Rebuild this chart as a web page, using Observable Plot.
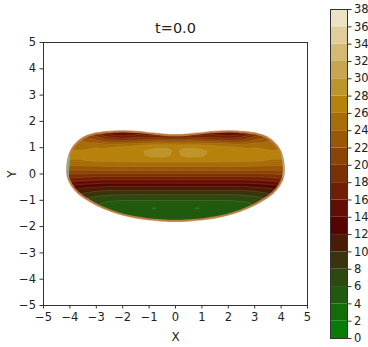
<!DOCTYPE html>
<html>
<head>
<meta charset="utf-8">
<script src="https://cdn.jsdelivr.net/npm/d3@7"></script>
<script src="https://cdn.jsdelivr.net/npm/@observablehq/plot@0.6"></script>
<style>
  body { margin: 0; background: white; }
  #wrap { position: relative; width: 368px; height: 347px; overflow: hidden; background: white; }
  #wrap svg { position: absolute; top: 0; overflow: visible; }
</style>
</head>
<body>
<div id="wrap"></div>
<script>
// ---- data ----
const title = "t=0.0";
const xTicks = [-5, -4, -3, -2, -1, 0, 1, 2, 3, 4, 5];
const yTicks = [-5, -4, -3, -2, -1, 0, 1, 2, 3, 4, 5];
const levels = [0, 2, 4, 6, 8, 10, 12, 14, 16, 18, 20, 22, 24, 26, 28, 30, 32, 34, 36, 38];

// sample grid of the field (columns = gridX, rows = gridY)
const gridX = [-4.2, -3.6, -3.0, -2.5, -2.0, -1.4, -0.8, -0.4, 0, 0.4, 0.8, 1.4, 2.0, 2.5, 3.0, 3.6, 4.2];
const gridY = [1.7, 1.5, 1.3, 1.1, 0.9, 0.7, 0.5, 0.3, 0.1, -0.1, -0.3, -0.5, -0.7, -0.9, -1.1, -1.3, -1.5, -1.7, -1.9];
const fieldValues = [
  [22, 20, 18, 16, 14, 14, 13, 12, 12, 12, 13, 14, 14, 16, 18, 20, 22],
  [24, 22, 19, 16, 15, 16, 15, 14, 13, 14, 15, 16, 15, 16, 19, 22, 24],
  [25, 24, 22, 20, 19, 20, 21, 21, 21, 21, 21, 20, 19, 20, 22, 24, 25],
  [26, 25.5, 25.5, 25, 25.5, 26, 26.3, 26.3, 26.3, 26.3, 26.3, 26, 25.5, 25, 25.5, 25.5, 26],
  [26, 26, 26.5, 27, 27.2, 27.5, 28.9, 28.9, 27.6, 28.9, 28.9, 27.5, 27.2, 27, 26.5, 26, 26],
  [26.5, 26.5, 27, 27, 27.2, 27.5, 28.6, 28.6, 27.5, 28.6, 28.6, 27.5, 27.2, 27, 27, 26.5, 26.5],
  [25.8, 25.8, 26.2, 26.3, 26.4, 26.5, 26.5, 26.5, 26.5, 26.5, 26.5, 26.5, 26.4, 26.3, 26.2, 25.8, 25.8],
  [23.8, 23.8, 24, 24.2, 24.2, 24.2, 24.2, 24.2, 24.2, 24.2, 24.2, 24.2, 24.2, 24.2, 24, 23.8, 23.8],
  [21.5, 21.5, 21.5, 21.5, 21.5, 21.5, 21.5, 21.5, 21.5, 21.5, 21.5, 21.5, 21.5, 21.5, 21.5, 21.5, 21.5],
  [19, 18.5, 18, 18, 18, 18, 18, 18, 18, 18, 18, 18, 18, 18, 18, 18.5, 19],
  [16.5, 15.5, 15, 14.8, 14.8, 14.8, 14.8, 14.8, 14.8, 14.8, 14.8, 14.8, 14.8, 14.8, 15, 15.5, 16.5],
  [14, 12.5, 12, 11.5, 11.5, 11.5, 11.5, 11.5, 11.5, 11.5, 11.5, 11.5, 11.5, 11.5, 12, 12.5, 14],
  [12, 10.5, 9.5, 9, 9, 9, 9, 9, 9, 9, 9, 9, 9, 9, 9.5, 10.5, 12],
  [10, 8.5, 7.5, 7, 6.8, 6.8, 6.8, 6.8, 6.8, 6.8, 6.8, 6.8, 6.8, 7, 7.5, 8.5, 10],
  [8, 7, 6.2, 5.6, 5.3, 5.3, 5.3, 5.3, 5.3, 5.3, 5.3, 5.3, 5.3, 5.6, 6.2, 7, 8],
  [7, 6.5, 6, 5.2, 4.9, 4.8, 3.8, 4.8, 4.8, 4.8, 3.8, 4.8, 4.9, 5.2, 6, 6.5, 7],
  [7, 6.5, 6, 5.2, 4.9, 4.8, 4.8, 4.8, 4.8, 4.8, 4.8, 4.8, 4.9, 5.2, 6, 6.5, 7],
  [7, 6.5, 6, 5.4, 5.2, 5.2, 5.2, 5.2, 5.2, 5.2, 5.2, 5.2, 5.2, 5.4, 6, 6.5, 7],
  [7, 6.5, 6, 5.6, 5.5, 5.5, 5.5, 5.5, 5.5, 5.5, 5.5, 5.5, 5.5, 5.6, 6, 6.5, 7]
];

// outline of the domain (clockwise from the left tip, over the top)
const boundaryX = [-4.1, -4.08, -4.02, -3.9, -3.72, -3.45, -3.1, -2.6, -2.0, -1.5, -1.0, -0.5, 0, 0.5, 1.0, 1.5, 2.0, 2.6, 3.1, 3.45, 3.72, 3.9, 4.02, 4.08, 4.1,
                   4.07, 3.93, 3.68, 3.28, 2.92, 2.45, 1.97, 1.5, 1.03, 0.55, 0, -0.55, -1.03, -1.5, -1.97, -2.45, -2.92, -3.28, -3.68, -3.93, -4.07];
const boundaryY = [0.15, 0.45, 0.72, 0.98, 1.2, 1.4, 1.52, 1.59, 1.62, 1.6, 1.55, 1.5, 1.48, 1.5, 1.55, 1.6, 1.62, 1.59, 1.52, 1.4, 1.2, 0.98, 0.72, 0.45, 0.15,
                   -0.12, -0.42, -0.72, -1.0, -1.2, -1.4, -1.55, -1.65, -1.72, -1.76, -1.78, -1.76, -1.72, -1.65, -1.55, -1.4, -1.2, -1.0, -0.72, -0.42, -0.12];

// ---- styles ----
const bandColors = [
  "rgb(5,125,5)", "rgb(18,108,10)", "rgb(32,90,14)", "rgb(45,72,16)", "rgb(58,52,12)",
  "rgb(72,28,6)", "rgb(86,4,2)", "rgb(100,14,3)", "rgb(114,30,4)", "rgb(126,48,5)",
  "rgb(140,68,6)", "rgb(154,88,7)", "rgb(168,108,8)", "rgb(182,130,12)", "rgb(190,148,45)",
  "rgb(200,165,80)", "rgb(212,185,115)", "rgb(224,205,155)", "rgb(236,226,196)"
];
const font = "DejaVu Sans, sans-serif";
const minusFmt = d => d < 0 ? "\u2212" + (-d) : String(d);

const grid = gridY.flatMap((y, i) => gridX.map((x, j) => ({x, y, value: fieldValues[i][j]})));
const boundary = boundaryX.map((x, i) => ({x, y: boundaryY[i]}));
const bandLevels = levels.slice(0, -1);
const colorScale = {type: "ordinal", domain: bandLevels, range: bandColors};

const main = Plot.plot({
  width: 325, height: 347,
  marginLeft: 43, marginRight: 18, marginTop: 42, marginBottom: 42,
  style: {fontFamily: font, fontSize: "11.5px", color: "#222", background: "white"},
  x: {domain: [-5, 5], label: null},
  y: {domain: [-5, 5], label: null},
  color: colorScale,
  marks: [
    Plot.contour(grid, {x: "x", y: "y", fill: "value", interpolate: "barycentric",
      thresholds: bandLevels, x1: -4.25, x2: 4.25, y1: -1.95, y2: 1.75}),
    Plot.contour(grid, {x: "x", y: "y", value: "value", interpolate: "barycentric",
      thresholds: bandLevels, x1: -4.25, x2: 4.25, y1: -1.95, y2: 1.75,
      fill: "none", stroke: "#e8c878", strokeOpacity: 0.22, strokeWidth: 0.7}),
    Plot.line(boundary, {x: "x", y: "y", curve: "catmull-rom-closed", stroke: "#c4834a", strokeWidth: 2.2, strokeOpacity: 0.9}),
    Plot.line(boundary.filter(d => Math.abs(d.x) > 3.95), {x: "x", y: "y", z: d => Math.sign(d.x), curve: "catmull-rom", stroke: "#72c9b4", strokeWidth: 1.4, strokeOpacity: 0.7}),
    Plot.frame({stroke: "#333"}),
    Plot.axisX({ticks: xTicks, tickFormat: minusFmt, tickSize: 3.5, tickPadding: 4, label: null, stroke: "#333"}),
    Plot.axisY({ticks: yTicks, tickFormat: minusFmt, tickSize: 3.5, tickPadding: 4, label: null, stroke: "#333"}),
    Plot.text([title], {frameAnchor: "top", dy: -14, lineAnchor: "middle", textAnchor: "middle", fontSize: 14.5, fill: "#222"}),
    Plot.text(["X"], {frameAnchor: "bottom", dy: 31.5, lineAnchor: "middle", textAnchor: "middle", fontSize: 12, fill: "#222"}),
    Plot.text(["Y"], {frameAnchor: "left", dx: -31, rotate: -90, lineAnchor: "middle", textAnchor: "middle", fontSize: 12, fill: "#222"})
  ]
});

// clip the filled field to the domain outline, using the plot's own scales
const sx = main.scale("x"), sy = main.scale("y");
const d = d3.line().x(p => sx.apply(p.x)).y(p => sy.apply(p.y)).curve(d3.curveCatmullRomClosed)(boundary);
const ns = "http://www.w3.org/2000/svg";
const defs = document.createElementNS(ns, "defs");
const cp = document.createElementNS(ns, "clipPath");
cp.setAttribute("id", "shapeClip");
const cpPath = document.createElementNS(ns, "path");
cpPath.setAttribute("d", d);
cp.appendChild(cpPath);
defs.appendChild(cp);
main.insertBefore(defs, main.firstChild);
main.querySelectorAll('g[aria-label="contour"]').forEach(g => g.setAttribute("clip-path", "url(#shapeClip)"));

const bar = Plot.plot({
  width: 47, height: 347,
  marginLeft: 8, marginRight: 22, marginTop: 9, marginBottom: 9,
  style: {fontFamily: font, fontSize: "11.5px", color: "#222", background: "transparent"},
  x: {axis: null},
  y: {domain: [0, 38], label: null},
  color: colorScale,
  marks: [
    Plot.barY(bandLevels, {y1: v => v, y2: v => v + 2, fill: v => v}),
    Plot.frame({stroke: "#333"}),
    Plot.axisY({anchor: "right", ticks: levels, tickSize: 3.5, tickPadding: 3, label: null, stroke: "#333"})
  ]
});

const wrap = document.getElementById("wrap");
main.style.left = "0px";
bar.style.left = "322px";
wrap.appendChild(main);
wrap.appendChild(bar);
</script>
</body>
</html>
